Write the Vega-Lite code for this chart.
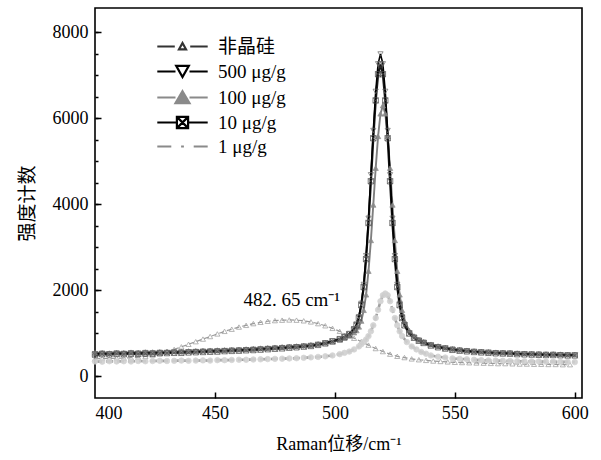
{
"$schema": "https://vega.github.io/schema/vega-lite/v6.json",
"width": 487, "height": 390,
"autosize": {"type": "none"},
"padding": {"left": 95, "top": 8, "right": 19, "bottom": 62},
"background": "white",
"config": {
 "view": {"stroke": "black", "strokeWidth": 1.6},
 "axis": {"grid": false, "domain": false, "tickColor": "black", "tickWidth": 1.5, "labelFont": "Liberation Serif", "labelFontSize": 18, "labelColor": "black", "titleColor": "black", "titleFontWeight": "normal"}
},
"data": {"values": [
{"series":"非晶硅","shift":400,"count":400},{"series":"非晶硅","shift":403,"count":410},{"series":"非晶硅","shift":406,"count":405},{"series":"非晶硅","shift":409,"count":420},{"series":"非晶硅","shift":412,"count":415},{"series":"非晶硅","shift":415,"count":430},{"series":"非晶硅","shift":418,"count":440},{"series":"非晶硅","shift":421,"count":460},{"series":"非晶硅","shift":424,"count":490},{"series":"非晶硅","shift":427,"count":530},{"series":"非晶硅","shift":430,"count":570},{"series":"非晶硅","shift":433,"count":620},{"series":"非晶硅","shift":436,"count":680},{"series":"非晶硅","shift":439,"count":740},{"series":"非晶硅","shift":442,"count":800},{"series":"非晶硅","shift":445,"count":860},{"series":"非晶硅","shift":448,"count":920},{"series":"非晶硅","shift":451,"count":980},{"series":"非晶硅","shift":454,"count":1040},{"series":"非晶硅","shift":457,"count":1090},{"series":"非晶硅","shift":460,"count":1140},{"series":"非晶硅","shift":463,"count":1180},{"series":"非晶硅","shift":466,"count":1220},{"series":"非晶硅","shift":469,"count":1250},{"series":"非晶硅","shift":472,"count":1275},{"series":"非晶硅","shift":475,"count":1290},{"series":"非晶硅","shift":478,"count":1300},{"series":"非晶硅","shift":481,"count":1305},{"series":"非晶硅","shift":484,"count":1300},{"series":"非晶硅","shift":487,"count":1285},{"series":"非晶硅","shift":490,"count":1260},{"series":"非晶硅","shift":493,"count":1220},{"series":"非晶硅","shift":496,"count":1170},{"series":"非晶硅","shift":499,"count":1110},{"series":"非晶硅","shift":502,"count":1040},{"series":"非晶硅","shift":505,"count":960},{"series":"非晶硅","shift":508,"count":880},{"series":"非晶硅","shift":511,"count":800},{"series":"非晶硅","shift":514,"count":720},{"series":"非晶硅","shift":517,"count":640},{"series":"非晶硅","shift":520,"count":570},{"series":"非晶硅","shift":523,"count":510},{"series":"非晶硅","shift":526,"count":460},{"series":"非晶硅","shift":529,"count":430},{"series":"非晶硅","shift":532,"count":400},{"series":"非晶硅","shift":535,"count":380},{"series":"非晶硅","shift":538,"count":365},{"series":"非晶硅","shift":541,"count":350},{"series":"非晶硅","shift":544,"count":340},{"series":"非晶硅","shift":547,"count":330},{"series":"非晶硅","shift":550,"count":320},{"series":"非晶硅","shift":553,"count":315},{"series":"非晶硅","shift":556,"count":310},{"series":"非晶硅","shift":559,"count":305},{"series":"非晶硅","shift":562,"count":300},{"series":"非晶硅","shift":565,"count":295},{"series":"非晶硅","shift":568,"count":290},{"series":"非晶硅","shift":571,"count":290},{"series":"非晶硅","shift":574,"count":285},{"series":"非晶硅","shift":577,"count":280},{"series":"非晶硅","shift":580,"count":280},{"series":"非晶硅","shift":583,"count":275},{"series":"非晶硅","shift":586,"count":275},{"series":"非晶硅","shift":589,"count":270},{"series":"非晶硅","shift":592,"count":270},{"series":"非晶硅","shift":595,"count":265},{"series":"非晶硅","shift":598,"count":265},
{"series":"1 μg/g","shift":400,"count":340},{"series":"1 μg/g","shift":403,"count":335},{"series":"1 μg/g","shift":406,"count":345},{"series":"1 μg/g","shift":409,"count":340},{"series":"1 μg/g","shift":412,"count":345},{"series":"1 μg/g","shift":415,"count":340},{"series":"1 μg/g","shift":418,"count":350},{"series":"1 μg/g","shift":421,"count":345},{"series":"1 μg/g","shift":424,"count":350},{"series":"1 μg/g","shift":427,"count":355},{"series":"1 μg/g","shift":430,"count":350},{"series":"1 μg/g","shift":433,"count":355},{"series":"1 μg/g","shift":436,"count":360},{"series":"1 μg/g","shift":439,"count":355},{"series":"1 μg/g","shift":442,"count":360},{"series":"1 μg/g","shift":445,"count":365},{"series":"1 μg/g","shift":448,"count":360},{"series":"1 μg/g","shift":451,"count":370},{"series":"1 μg/g","shift":454,"count":370},{"series":"1 μg/g","shift":457,"count":375},{"series":"1 μg/g","shift":460,"count":380},{"series":"1 μg/g","shift":463,"count":380},{"series":"1 μg/g","shift":466,"count":385},{"series":"1 μg/g","shift":469,"count":390},{"series":"1 μg/g","shift":472,"count":395},{"series":"1 μg/g","shift":475,"count":400},{"series":"1 μg/g","shift":478,"count":405},{"series":"1 μg/g","shift":481,"count":410},{"series":"1 μg/g","shift":484,"count":415},{"series":"1 μg/g","shift":487,"count":425},{"series":"1 μg/g","shift":490,"count":435},{"series":"1 μg/g","shift":493,"count":445},{"series":"1 μg/g","shift":496,"count":460},{"series":"1 μg/g","shift":499,"count":480},{"series":"1 μg/g","shift":502,"count":510},{"series":"1 μg/g","shift":504,"count":540},{"series":"1 μg/g","shift":506,"count":570},{"series":"1 μg/g","shift":508,"count":620},{"series":"1 μg/g","shift":510,"count":690},{"series":"1 μg/g","shift":511,"count":740},{"series":"1 μg/g","shift":512,"count":790},{"series":"1 μg/g","shift":513,"count":850},{"series":"1 μg/g","shift":514,"count":930},{"series":"1 μg/g","shift":515,"count":1040},{"series":"1 μg/g","shift":516,"count":1180},{"series":"1 μg/g","shift":517,"count":1350},{"series":"1 μg/g","shift":518,"count":1540},{"series":"1 μg/g","shift":519,"count":1740},{"series":"1 μg/g","shift":520,"count":1880},{"series":"1 μg/g","shift":521,"count":1920},{"series":"1 μg/g","shift":522,"count":1880},{"series":"1 μg/g","shift":523,"count":1740},{"series":"1 μg/g","shift":524,"count":1540},{"series":"1 μg/g","shift":525,"count":1350},{"series":"1 μg/g","shift":526,"count":1180},{"series":"1 μg/g","shift":527,"count":1040},{"series":"1 μg/g","shift":528,"count":930},{"series":"1 μg/g","shift":530,"count":790},{"series":"1 μg/g","shift":532,"count":690},{"series":"1 μg/g","shift":534,"count":620},{"series":"1 μg/g","shift":536,"count":560},{"series":"1 μg/g","shift":538,"count":520},{"series":"1 μg/g","shift":540,"count":480},{"series":"1 μg/g","shift":543,"count":450},{"series":"1 μg/g","shift":546,"count":430},{"series":"1 μg/g","shift":549,"count":410},{"series":"1 μg/g","shift":552,"count":400},{"series":"1 μg/g","shift":555,"count":390},{"series":"1 μg/g","shift":558,"count":380},{"series":"1 μg/g","shift":561,"count":370},{"series":"1 μg/g","shift":564,"count":365},{"series":"1 μg/g","shift":567,"count":360},{"series":"1 μg/g","shift":570,"count":355},{"series":"1 μg/g","shift":573,"count":350},{"series":"1 μg/g","shift":576,"count":345},{"series":"1 μg/g","shift":579,"count":345},{"series":"1 μg/g","shift":582,"count":340},{"series":"1 μg/g","shift":585,"count":340},{"series":"1 μg/g","shift":588,"count":335},{"series":"1 μg/g","shift":591,"count":335},{"series":"1 μg/g","shift":594,"count":330},{"series":"1 μg/g","shift":597,"count":330},{"series":"1 μg/g","shift":600,"count":325},
{"series":"100 μg/g","shift":400,"count":540},{"series":"100 μg/g","shift":403,"count":545},{"series":"100 μg/g","shift":406,"count":535},{"series":"100 μg/g","shift":409,"count":550},{"series":"100 μg/g","shift":412,"count":545},{"series":"100 μg/g","shift":415,"count":555},{"series":"100 μg/g","shift":418,"count":550},{"series":"100 μg/g","shift":421,"count":560},{"series":"100 μg/g","shift":424,"count":560},{"series":"100 μg/g","shift":427,"count":565},{"series":"100 μg/g","shift":430,"count":570},{"series":"100 μg/g","shift":433,"count":575},{"series":"100 μg/g","shift":436,"count":575},{"series":"100 μg/g","shift":439,"count":585},{"series":"100 μg/g","shift":442,"count":590},{"series":"100 μg/g","shift":445,"count":595},{"series":"100 μg/g","shift":448,"count":600},{"series":"100 μg/g","shift":451,"count":605},{"series":"100 μg/g","shift":454,"count":610},{"series":"100 μg/g","shift":457,"count":615},{"series":"100 μg/g","shift":460,"count":620},{"series":"100 μg/g","shift":463,"count":630},{"series":"100 μg/g","shift":466,"count":640},{"series":"100 μg/g","shift":469,"count":650},{"series":"100 μg/g","shift":472,"count":660},{"series":"100 μg/g","shift":475,"count":670},{"series":"100 μg/g","shift":478,"count":680},{"series":"100 μg/g","shift":481,"count":690},{"series":"100 μg/g","shift":484,"count":700},{"series":"100 μg/g","shift":487,"count":715},{"series":"100 μg/g","shift":490,"count":730},{"series":"100 μg/g","shift":493,"count":750},{"series":"100 μg/g","shift":496,"count":775},{"series":"100 μg/g","shift":499,"count":805},{"series":"100 μg/g","shift":502,"count":845},{"series":"100 μg/g","shift":504,"count":885},{"series":"100 μg/g","shift":506,"count":935},{"series":"100 μg/g","shift":508,"count":1010},{"series":"100 μg/g","shift":509,"count":1060},{"series":"100 μg/g","shift":510,"count":1145},{"series":"100 μg/g","shift":511,"count":1280},{"series":"100 μg/g","shift":512,"count":1530},{"series":"100 μg/g","shift":513,"count":1890},{"series":"100 μg/g","shift":514,"count":2440},{"series":"100 μg/g","shift":515,"count":3155},{"series":"100 μg/g","shift":516,"count":3980},{"series":"100 μg/g","shift":517,"count":4835},{"series":"100 μg/g","shift":518,"count":5575},{"series":"100 μg/g","shift":519,"count":6100},{"series":"100 μg/g","shift":520,"count":6290},{"series":"100 μg/g","shift":521,"count":6100},{"series":"100 μg/g","shift":522,"count":5575},{"series":"100 μg/g","shift":523,"count":4835},{"series":"100 μg/g","shift":524,"count":3980},{"series":"100 μg/g","shift":525,"count":3155},{"series":"100 μg/g","shift":526,"count":2440},{"series":"100 μg/g","shift":527,"count":1890},{"series":"100 μg/g","shift":528,"count":1530},{"series":"100 μg/g","shift":529,"count":1280},{"series":"100 μg/g","shift":531,"count":1060},{"series":"100 μg/g","shift":533,"count":930},{"series":"100 μg/g","shift":535,"count":850},{"series":"100 μg/g","shift":537,"count":800},{"series":"100 μg/g","shift":540,"count":740},{"series":"100 μg/g","shift":543,"count":700},{"series":"100 μg/g","shift":546,"count":665},{"series":"100 μg/g","shift":549,"count":635},{"series":"100 μg/g","shift":552,"count":615},{"series":"100 μg/g","shift":555,"count":600},{"series":"100 μg/g","shift":558,"count":585},{"series":"100 μg/g","shift":561,"count":575},{"series":"100 μg/g","shift":564,"count":565},{"series":"100 μg/g","shift":567,"count":555},{"series":"100 μg/g","shift":570,"count":550},{"series":"100 μg/g","shift":573,"count":545},{"series":"100 μg/g","shift":576,"count":535},{"series":"100 μg/g","shift":579,"count":530},{"series":"100 μg/g","shift":582,"count":525},{"series":"100 μg/g","shift":585,"count":520},{"series":"100 μg/g","shift":588,"count":515},{"series":"100 μg/g","shift":591,"count":515},{"series":"100 μg/g","shift":594,"count":510},{"series":"100 μg/g","shift":597,"count":505},{"series":"100 μg/g","shift":600,"count":505},
{"series":"10 μg/g","shift":400,"count":500},{"series":"10 μg/g","shift":403,"count":510},{"series":"10 μg/g","shift":406,"count":505},{"series":"10 μg/g","shift":409,"count":515},{"series":"10 μg/g","shift":412,"count":510},{"series":"10 μg/g","shift":415,"count":520},{"series":"10 μg/g","shift":418,"count":515},{"series":"10 μg/g","shift":421,"count":525},{"series":"10 μg/g","shift":424,"count":520},{"series":"10 μg/g","shift":427,"count":530},{"series":"10 μg/g","shift":430,"count":535},{"series":"10 μg/g","shift":433,"count":540},{"series":"10 μg/g","shift":436,"count":540},{"series":"10 μg/g","shift":439,"count":550},{"series":"10 μg/g","shift":442,"count":555},{"series":"10 μg/g","shift":445,"count":560},{"series":"10 μg/g","shift":448,"count":565},{"series":"10 μg/g","shift":451,"count":570},{"series":"10 μg/g","shift":454,"count":580},{"series":"10 μg/g","shift":457,"count":585},{"series":"10 μg/g","shift":460,"count":590},{"series":"10 μg/g","shift":463,"count":600},{"series":"10 μg/g","shift":466,"count":605},{"series":"10 μg/g","shift":469,"count":615},{"series":"10 μg/g","shift":472,"count":625},{"series":"10 μg/g","shift":475,"count":635},{"series":"10 μg/g","shift":478,"count":645},{"series":"10 μg/g","shift":481,"count":660},{"series":"10 μg/g","shift":484,"count":670},{"series":"10 μg/g","shift":487,"count":685},{"series":"10 μg/g","shift":490,"count":700},{"series":"10 μg/g","shift":493,"count":725},{"series":"10 μg/g","shift":496,"count":760},{"series":"10 μg/g","shift":499,"count":805},{"series":"10 μg/g","shift":502,"count":855},{"series":"10 μg/g","shift":504,"count":905},{"series":"10 μg/g","shift":506,"count":970},{"series":"10 μg/g","shift":508,"count":1080},{"series":"10 μg/g","shift":509,"count":1180},{"series":"10 μg/g","shift":510,"count":1350},{"series":"10 μg/g","shift":511,"count":1650},{"series":"10 μg/g","shift":512,"count":2070},{"series":"10 μg/g","shift":513,"count":2720},{"series":"10 μg/g","shift":514,"count":3560},{"series":"10 μg/g","shift":515,"count":4530},{"series":"10 μg/g","shift":516,"count":5530},{"series":"10 μg/g","shift":517,"count":6410},{"series":"10 μg/g","shift":518,"count":7020},{"series":"10 μg/g","shift":519,"count":7250},{"series":"10 μg/g","shift":520,"count":7020},{"series":"10 μg/g","shift":521,"count":6410},{"series":"10 μg/g","shift":522,"count":5530},{"series":"10 μg/g","shift":523,"count":4530},{"series":"10 μg/g","shift":524,"count":3560},{"series":"10 μg/g","shift":525,"count":2720},{"series":"10 μg/g","shift":526,"count":2070},{"series":"10 μg/g","shift":527,"count":1650},{"series":"10 μg/g","shift":528,"count":1350},{"series":"10 μg/g","shift":529,"count":1180},{"series":"10 μg/g","shift":531,"count":990},{"series":"10 μg/g","shift":533,"count":890},{"series":"10 μg/g","shift":535,"count":820},{"series":"10 μg/g","shift":537,"count":770},{"series":"10 μg/g","shift":540,"count":710},{"series":"10 μg/g","shift":543,"count":670},{"series":"10 μg/g","shift":546,"count":640},{"series":"10 μg/g","shift":549,"count":610},{"series":"10 μg/g","shift":552,"count":590},{"series":"10 μg/g","shift":555,"count":575},{"series":"10 μg/g","shift":558,"count":560},{"series":"10 μg/g","shift":561,"count":550},{"series":"10 μg/g","shift":564,"count":540},{"series":"10 μg/g","shift":567,"count":530},{"series":"10 μg/g","shift":570,"count":525},{"series":"10 μg/g","shift":573,"count":520},{"series":"10 μg/g","shift":576,"count":510},{"series":"10 μg/g","shift":579,"count":505},{"series":"10 μg/g","shift":582,"count":500},{"series":"10 μg/g","shift":585,"count":495},{"series":"10 μg/g","shift":588,"count":490},{"series":"10 μg/g","shift":591,"count":490},{"series":"10 μg/g","shift":594,"count":485},{"series":"10 μg/g","shift":597,"count":480},{"series":"10 μg/g","shift":600,"count":480},
{"series":"500 μg/g","shift":400,"count":520},{"series":"500 μg/g","shift":403,"count":530},{"series":"500 μg/g","shift":406,"count":515},{"series":"500 μg/g","shift":409,"count":535},{"series":"500 μg/g","shift":412,"count":525},{"series":"500 μg/g","shift":415,"count":540},{"series":"500 μg/g","shift":418,"count":530},{"series":"500 μg/g","shift":421,"count":545},{"series":"500 μg/g","shift":424,"count":540},{"series":"500 μg/g","shift":427,"count":550},{"series":"500 μg/g","shift":430,"count":545},{"series":"500 μg/g","shift":433,"count":560},{"series":"500 μg/g","shift":436,"count":555},{"series":"500 μg/g","shift":439,"count":565},{"series":"500 μg/g","shift":442,"count":570},{"series":"500 μg/g","shift":445,"count":575},{"series":"500 μg/g","shift":448,"count":580},{"series":"500 μg/g","shift":451,"count":585},{"series":"500 μg/g","shift":454,"count":590},{"series":"500 μg/g","shift":457,"count":600},{"series":"500 μg/g","shift":460,"count":605},{"series":"500 μg/g","shift":463,"count":610},{"series":"500 μg/g","shift":466,"count":620},{"series":"500 μg/g","shift":469,"count":630},{"series":"500 μg/g","shift":472,"count":640},{"series":"500 μg/g","shift":475,"count":650},{"series":"500 μg/g","shift":478,"count":660},{"series":"500 μg/g","shift":481,"count":670},{"series":"500 μg/g","shift":484,"count":680},{"series":"500 μg/g","shift":487,"count":690},{"series":"500 μg/g","shift":490,"count":700},{"series":"500 μg/g","shift":493,"count":730},{"series":"500 μg/g","shift":496,"count":770},{"series":"500 μg/g","shift":499,"count":820},{"series":"500 μg/g","shift":502,"count":870},{"series":"500 μg/g","shift":504,"count":920},{"series":"500 μg/g","shift":506,"count":990},{"series":"500 μg/g","shift":508,"count":1100},{"series":"500 μg/g","shift":509,"count":1210},{"series":"500 μg/g","shift":510,"count":1380},{"series":"500 μg/g","shift":511,"count":1690},{"series":"500 μg/g","shift":512,"count":2130},{"series":"500 μg/g","shift":513,"count":2800},{"series":"500 μg/g","shift":514,"count":3670},{"series":"500 μg/g","shift":515,"count":4680},{"series":"500 μg/g","shift":516,"count":5710},{"series":"500 μg/g","shift":517,"count":6620},{"series":"500 μg/g","shift":518,"count":7260},{"series":"500 μg/g","shift":519,"count":7490},{"series":"500 μg/g","shift":520,"count":7260},{"series":"500 μg/g","shift":521,"count":6620},{"series":"500 μg/g","shift":522,"count":5710},{"series":"500 μg/g","shift":523,"count":4680},{"series":"500 μg/g","shift":524,"count":3670},{"series":"500 μg/g","shift":525,"count":2800},{"series":"500 μg/g","shift":526,"count":2130},{"series":"500 μg/g","shift":527,"count":1690},{"series":"500 μg/g","shift":528,"count":1380},{"series":"500 μg/g","shift":529,"count":1200},{"series":"500 μg/g","shift":531,"count":1000},{"series":"500 μg/g","shift":533,"count":900},{"series":"500 μg/g","shift":535,"count":830},{"series":"500 μg/g","shift":537,"count":780},{"series":"500 μg/g","shift":540,"count":720},{"series":"500 μg/g","shift":543,"count":680},{"series":"500 μg/g","shift":546,"count":650},{"series":"500 μg/g","shift":549,"count":620},{"series":"500 μg/g","shift":552,"count":600},{"series":"500 μg/g","shift":555,"count":585},{"series":"500 μg/g","shift":558,"count":570},{"series":"500 μg/g","shift":561,"count":560},{"series":"500 μg/g","shift":564,"count":550},{"series":"500 μg/g","shift":567,"count":540},{"series":"500 μg/g","shift":570,"count":535},{"series":"500 μg/g","shift":573,"count":530},{"series":"500 μg/g","shift":576,"count":520},{"series":"500 μg/g","shift":579,"count":515},{"series":"500 μg/g","shift":582,"count":510},{"series":"500 μg/g","shift":585,"count":505},{"series":"500 μg/g","shift":588,"count":500},{"series":"500 μg/g","shift":591,"count":500},{"series":"500 μg/g","shift":594,"count":495},{"series":"500 μg/g","shift":597,"count":490},{"series":"500 μg/g","shift":600,"count":490}
]},
"layer": [
 {
  "mark": {"type": "line"},
  "encoding": {
   "x": {"field": "shift", "type": "quantitative", "scale": {"domain": [400, 603], "nice": false, "zero": false},
         "axis": {"orient": "bottom", "values": [400, 450, 500, 550, 600], "format": "d", "ticks": false, "labelPadding": 6, "title": "Raman位移/cm⁻¹", "titleFont": "Liberation Serif, Noto Sans CJK SC", "titleFontSize": 18, "titlePadding": 13}},
   "y": {"field": "count", "type": "quantitative", "scale": {"domain": [-510, 8560], "nice": false, "zero": false},
         "axis": {"orient": "left", "values": [0, 2000, 4000, 6000, 8000], "format": "d", "ticks": false, "labelPadding": 7, "title": "强度计数", "titleFont": "Noto Sans CJK SC", "titleFontSize": 19, "titlePadding": 15}},
   "color": {"field": "series", "type": "nominal", "scale": {"domain": ["非晶硅", "500 μg/g", "100 μg/g", "10 μg/g", "1 μg/g"], "range": ["#9a9a9a", "#000000", "#7f7f7f", "#1a1a1a", "#a0a0a0"]}, "legend": null},
   "strokeDash": {"field": "series", "type": "nominal", "scale": {"domain": ["非晶硅", "500 μg/g", "100 μg/g", "10 μg/g", "1 μg/g"], "range": [[5, 3], [1, 0], [1, 0], [1, 0], [7, 4]]}, "legend": null},
   "strokeWidth": {"field": "series", "type": "ordinal", "scale": {"domain": ["非晶硅", "500 μg/g", "100 μg/g", "10 μg/g", "1 μg/g"], "range": [1.2, 2.6, 2.6, 2.2, 1.8]}, "legend": null}
  }
 },
 {
  "mark": {"type": "point", "opacity": 0.9, "strokeWidth": 0.8, "size": 28},
  "encoding": {
   "x": {"field": "shift", "type": "quantitative", "scale": {"domain": [400, 603], "nice": false, "zero": false},
         "axis": {"orient": "bottom", "values": [450, 500, 550, 600], "offset": -6, "tickSize": 6, "labels": false, "title": null}},
   "y": {"field": "count", "type": "quantitative", "scale": {"domain": [-510, 8560], "nice": false, "zero": false},
         "axis": {"orient": "left", "values": [0, 500, 1000, 1500, 2000, 2500, 3000, 3500, 4000, 4500, 5000, 5500, 6000, 6500, 7000, 7500, 8000], "offset": -3, "tickSize": 3, "labels": false, "title": null}},
   "shape": {"field": "series", "type": "nominal", "scale": {"domain": ["非晶硅", "500 μg/g", "100 μg/g", "10 μg/g", "1 μg/g"], "range": ["triangle-up", "triangle-down", "triangle-up", "M-1,-1L1,-1L1,1L-1,1ZM-1,-1L1,1M1,-1L-1,1", "circle"]}, "legend": null},
   "fill": {"field": "series", "type": "nominal", "scale": {"domain": ["非晶硅", "500 μg/g", "100 μg/g", "10 μg/g", "1 μg/g"], "range": ["transparent", "transparent", "#8a8a8a", "transparent", "#d0d0d0"]}, "legend": null},
   "stroke": {"field": "series", "type": "nominal", "scale": {"domain": ["非晶硅", "500 μg/g", "100 μg/g", "10 μg/g", "1 μg/g"], "range": ["#9a9a9a", "#6a6a6a", "#8a8a8a", "#4a4a4a", "#d0d0d0"]}, "legend": null},
   "size": {"field": "series", "type": "ordinal", "scale": {"domain": ["非晶硅", "500 μg/g", "100 μg/g", "10 μg/g", "1 μg/g"], "range": [26, 30, 28, 26, 10]}, "legend": null}
  }
 },
 {
  "data": {"values": [{"label": "482. 65 cm⁻¹", "shift": 482, "count": 1770}]},
  "mark": {"type": "text", "font": "Liberation Serif", "fontSize": 19, "color": "black", "align": "center", "baseline": "middle"},
  "encoding": {
   "x": {"field": "shift", "type": "quantitative", "scale": {"domain": [400, 603], "nice": false, "zero": false}, "axis": null},
   "y": {"field": "count", "type": "quantitative", "scale": {"domain": [-510, 8560], "nice": false, "zero": false},
         "axis": {"orient": "left", "values": [0, 2000, 4000, 6000, 8000], "offset": -6, "tickSize": 6, "labels": false, "title": null}},
   "text": {"field": "label"}
  }
 },
 {
  "transform": [{"filter": "datum.shift > 9999"}],
  "mark": {"type": "point", "opacity": 1, "strokeWidth": 2.2, "size": 196},
  "encoding": {
   "shape": {"field": "series", "type": "nominal", "scale": {"domain": ["非晶硅", "500 μg/g", "100 μg/g", "10 μg/g", "1 μg/g"], "range": ["M-3.6,0L-1.1,0M1.1,0L3.6,0M0,-0.5L0.5,0.4L-0.5,0.4Z", "M-3.6,0L-1,0M1,0L3.6,0M-0.9,-0.8L0.9,-0.8L0,0.8Z", "M-3.6,0L-1,0M1,0L3.6,0M0,-0.9L1,0.8L-1,0.8Z", "M-3.6,0L-0.8,0M0.8,0L3.6,0M-0.8,-0.8L0.8,-0.8L0.8,0.8L-0.8,0.8ZM-0.8,-0.8L0.8,0.8M0.8,-0.8L-0.8,0.8", "M-3.6,0L-1.6,0M1.6,0L3.6,0M-0.2,0L0.2,0"]},
     "legend": {"orient": "none", "legendX": 78, "legendY": 29, "title": null, "labelFont": "Liberation Serif, Noto Sans CJK SC", "labelFontSize": 19, "labelColor": "black", "symbolSize": 196, "symbolStrokeWidth": 2.2, "labelOffset": 26, "rowPadding": 4, "padding": 0}},
   "fill": {"field": "series", "type": "nominal", "scale": {"domain": ["非晶硅", "500 μg/g", "100 μg/g", "10 μg/g", "1 μg/g"], "range": ["transparent", "transparent", "#8a8a8a", "transparent", "transparent"]},
     "legend": {"orient": "none", "legendX": 78, "legendY": 29, "title": null, "labelFont": "Liberation Serif, Noto Sans CJK SC", "labelFontSize": 19, "labelColor": "black", "symbolSize": 196, "symbolStrokeWidth": 2.2, "labelOffset": 26, "rowPadding": 4, "padding": 0}},
   "stroke": {"field": "series", "type": "nominal", "scale": {"domain": ["非晶硅", "500 μg/g", "100 μg/g", "10 μg/g", "1 μg/g"], "range": ["#333333", "#000000", "#8a8a8a", "#000000", "#8a8a8a"]},
     "legend": {"orient": "none", "legendX": 78, "legendY": 29, "title": null, "labelFont": "Liberation Serif, Noto Sans CJK SC", "labelFontSize": 19, "labelColor": "black", "symbolSize": 196, "symbolStrokeWidth": 2.2, "labelOffset": 26, "rowPadding": 4, "padding": 0}}
  }
 }
],
"resolve": {"scale": {"shape": "independent", "fill": "independent", "stroke": "independent", "size": "independent"}, "axis": {"x": "independent", "y": "independent"}}
}
